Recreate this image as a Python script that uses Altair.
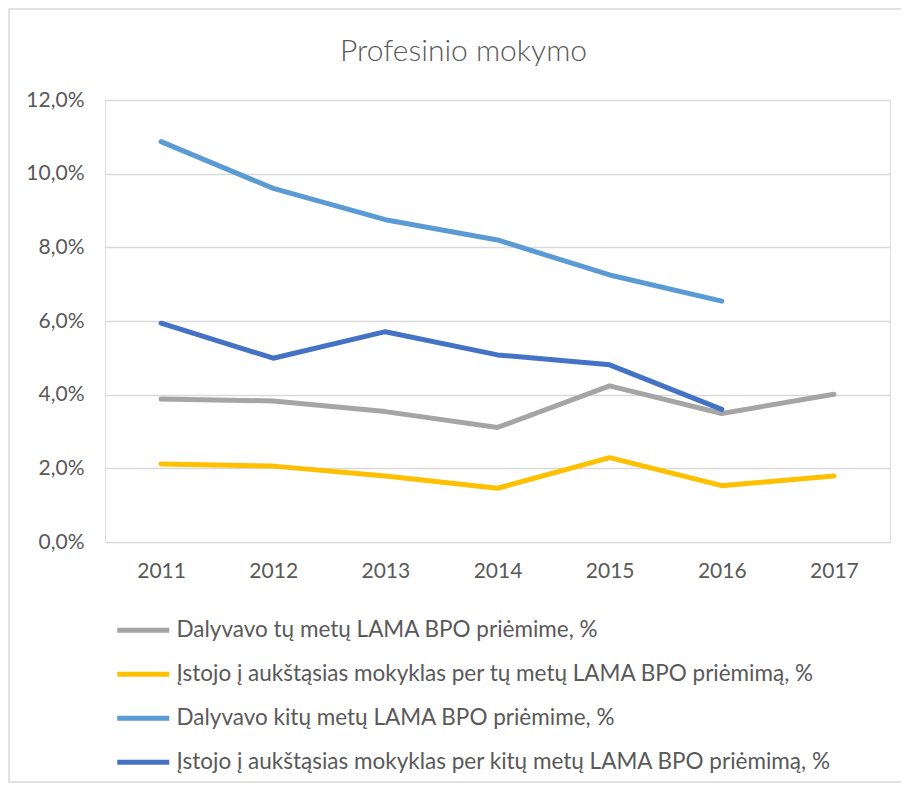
import altair as alt
import pandas as pd

years = ["2011", "2012", "2013", "2014", "2015", "2016", "2017"]
series_names = [
    "Dalyvavo tų metų LAMA BPO priėmime, %",
    "Įstojo į aukštąsias mokyklas per tų metų LAMA BPO priėmimą, %",
    "Dalyvavo kitų metų LAMA BPO priėmime, %",
    "Įstojo į aukštąsias mokyklas per kitų metų LAMA BPO priėmimą, %",
]
colors = ["#A5A5A5", "#FFC000", "#5B9BD5", "#4472C4"]

dalyvavo_tu = [3.88, 3.83, 3.54, 3.11, 4.24, 3.49, 4.01]
istojo_tu = [2.12, 2.06, 1.79, 1.46, 2.29, 1.53, 1.79]
dalyvavo_kitu = [10.87, 9.60, 8.75, 8.20, 7.25, 6.54]
istojo_kitu = [5.94, 4.99, 5.71, 5.08, 4.81, 3.60]

rows = []
for name, vals in zip(series_names, [dalyvavo_tu, istojo_tu, dalyvavo_kitu, istojo_kitu]):
    for y, v in zip(years, vals):
        rows.append({"year": y, "value": v, "series": name})
df = pd.DataFrame(rows)

FONT = "Lato"
GREY = "#595959"

lines = alt.Chart(df).mark_line(strokeWidth=5, strokeCap="round", strokeJoin="round").encode(
    x=alt.X("year:N", sort=years, scale=alt.Scale(type="point", padding=0.5),
            axis=alt.Axis(title=None, labelAngle=0, domain=False, ticks=False,
                          labelPadding=18, labelFontSize=21, labelColor=GREY, labelFont=FONT)),
    y=alt.Y("value:Q", scale=alt.Scale(domain=[0, 12]),
            axis=alt.Axis(title=None, values=[0, 2, 4, 6, 8, 10, 12], domain=False, ticks=False,
                          labelExpr="replace(format(datum.value, '.1f'), '.', ',') + '%'",
                          labelPadding=21, labelFontSize=21, labelColor=GREY, labelFont=FONT,
                          grid=True, gridColor="#D9D9D9", gridWidth=1.5)),
    color=alt.Color("series:N", scale=alt.Scale(domain=series_names, range=colors),
                    legend=alt.Legend(title=None, orient="none", legendX=27, legendY=519,
                                      direction="vertical", padding=0,
                                      symbolType="M-5.2,0H5.2", symbolSize=100,
                                      symbolStrokeWidth=5, labelOffset=22, rowPadding=21,
                                      labelFontSize=22.5, labelColor=GREY, labelFont=FONT,
                                      labelLimit=800)),
)

frame = alt.Chart(pd.DataFrame({"k": [0]})).mark_rect(fill=None, stroke="#D9D9D9", strokeWidth=1.5).encode(
    x=alt.value(-96), x2=alt.value(798), y=alt.value(-91), y2=alt.value(682)
)

chart = alt.layer(frame, lines).properties(
    width=785, height=442,
    title=alt.Title("Profesinio mokymo", fontSize=30, font=FONT, fontWeight=300, color=GREY,
                    anchor="middle", dx=-34, offset=-59),
    autosize=alt.AutoSizeParams(type="none"),
    padding={"left": 97, "top": 92, "right": 11, "bottom": 241},
).configure_view(stroke=None).configure(background="white")

chart.save("out.html", embed_options={"renderer": "svg", "actions": False})
